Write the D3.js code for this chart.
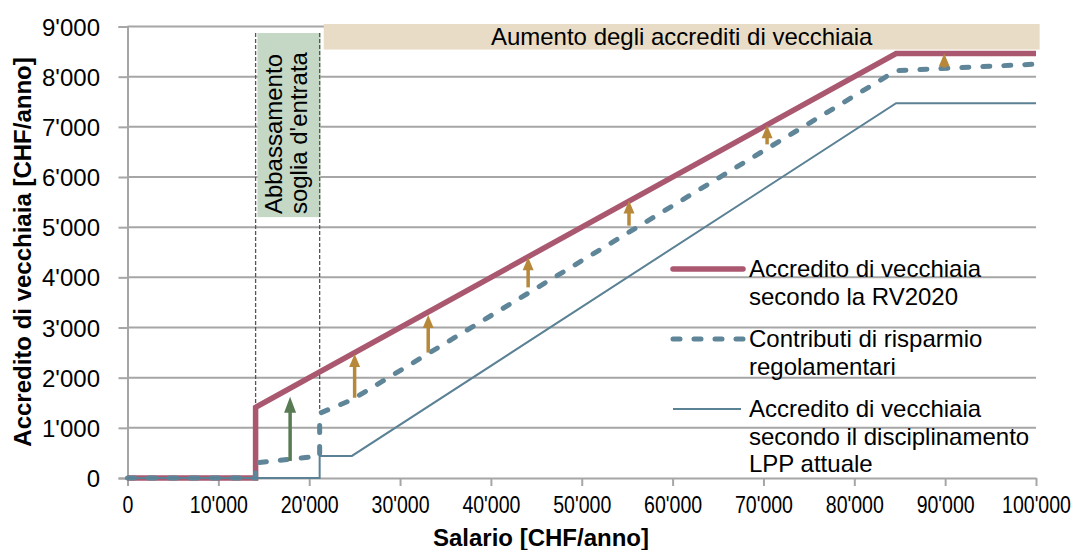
<!DOCTYPE html>
<html>
<head>
<meta charset="utf-8">
<script src="https://cdn.jsdelivr.net/npm/d3@7"></script>
<style>
  body { margin: 0; background: #fff; }
  svg { display: block; font-family: "Liberation Sans", Arial, sans-serif; }
</style>
</head>
<body>
<div id="chart"></div>
<script>
// Salary breakpoints (CHF/anno) and credits (CHF/anno) per series
const redSalary = [0, 14100, 14100, 84600, 100000];
const redCredit = [0, 0, 1410, 8460, 8460];

const dashSalary = [0, 14100, 14100, 21150, 21150, 24700, 84600, 100000];
const dashCredit = [0, 0, 300, 440, 1290, 1560, 8120, 8250];

const thinSalary = [0, 21150, 21150, 24700, 84600, 100000];
const thinCredit = [0, 0, 440, 440, 7470, 7470];

// Arrows: increase of credits
const goldArrowSalary = [25000, 33100, 44100, 55200, 70400, 89900];
const goldArrowFrom = [1600, 2500, 3800, 5030, 6650, 8180];
const goldArrowTo = [2470, 3250, 4400, 5530, 7030, 8460];

const greenArrowSalary = [17900];
const greenArrowFrom = [340];
const greenArrowTo = [1620];

const xTicks = [0, 10000, 20000, 30000, 40000, 50000, 60000, 70000, 80000, 90000, 100000];
const yTicks = [0, 1000, 2000, 3000, 4000, 5000, 6000, 7000, 8000, 9000];

const legendLabels = [
  ['Accredito di vecchiaia', 'secondo la RV2020'],
  ['Contributi di risparmio', 'regolamentari'],
  ['Accredito di vecchiaia', 'secondo il disciplinamento', 'LPP attuale']
];

const width = 1078, height = 550;
const margin = { top: 26.5, right: 42, bottom: 72, left: 127.5 };
const innerW = width - margin.left - margin.right;
const innerH = height - margin.top - margin.bottom;

const fmt = d3.formatLocale({ decimal: '.', thousands: "'", grouping: [3], currency: ['', ''] }).format(',');

const colors = {
  red: '#aa5870',
  dash: '#5f8599',
  thin: '#5b8195',
  grid: '#a6a6a6',
  gold: '#b8883a',
  green: '#587b54',
  tan: '#e8dcc6',
  sage: '#c5d8c6'
};

const svg = d3.select('#chart').append('svg')
  .attr('width', width)
  .attr('height', height);

const g = svg.append('g').attr('transform', `translate(${margin.left},${margin.top})`);

const x = d3.scaleLinear().domain([0, 100000]).range([0, innerW]);
const y = d3.scaleLinear().domain([0, 9000]).range([innerH, 0]);

// gridlines
g.selectAll('line.grid')
  .data(yTicks.filter(d => d > 0))
  .join('line')
  .attr('class', 'grid')
  .attr('x1', 0).attr('x2', innerW)
  .attr('y1', d => y(d)).attr('y2', d => y(d))
  .attr('stroke', colors.grid)
  .attr('stroke-width', 2);

// shaded boxes
g.append('rect')
  .attr('x', x(14300)).attr('width', x(21250) - x(14300))
  .attr('y', y(8870)).attr('height', y(5200) - y(8870))
  .attr('fill', colors.sage);

g.append('rect')
  .attr('x', x(21600)).attr('width', x(100400) - x(21600))
  .attr('y', y(9050)).attr('height', y(8540) - y(9050))
  .attr('fill', colors.tan);

g.append('text')
  .attr('x', (x(21600) + x(100400)) / 2)
  .attr('y', y(8540) - 5)
  .attr('text-anchor', 'middle')
  .attr('font-size', 24)
  .attr('fill', '#000')
  .text('Aumento degli accrediti di vecchiaia');

// rotated label in the green box
[['Abbassamento', 154.5], ['soglia d\'entrata', 179.5]].forEach(([t, cx]) => {
  g.append('text')
    .attr('transform', `translate(${cx},${y(5260)}) rotate(-90)`)
    .attr('font-size', 24)
    .attr('fill', '#000')
    .text(t);
});

// dashed threshold markers
[[14100, 1410], [21150, 1290]].forEach(([s, v]) => {
  g.append('line')
    .attr('x1', x(s)).attr('x2', x(s))
    .attr('y1', y(8870)).attr('y2', y(v))
    .attr('stroke', '#555')
    .attr('stroke-width', 1.3)
    .attr('stroke-dasharray', '4,2');
});

// axes
const yAxis = g.append('g')
  .call(d3.axisLeft(y).tickValues(yTicks).tickFormat(fmt).tickSize(9).tickPadding(0));
yAxis.select('.domain').attr('stroke', colors.grid).attr('stroke-width', 2);
yAxis.selectAll('.tick line').attr('stroke', colors.grid).attr('stroke-width', 2);
yAxis.selectAll('.tick text')
  .attr('x', -27.5)
  .attr('dy', '0.36em')
  .attr('font-size', 24)
  .attr('font-family', '"Liberation Sans", Arial, sans-serif')
  .attr('fill', '#000');

const xAxis = g.append('g')
  .attr('transform', `translate(0,${innerH})`)
  .call(d3.axisBottom(x).tickValues(xTicks).tickFormat(fmt).tickSize(8).tickSizeOuter(0));
xAxis.select('.domain').attr('stroke', colors.grid).attr('stroke-width', 2);
xAxis.selectAll('.tick line').attr('stroke', colors.grid).attr('stroke-width', 2);
xAxis.selectAll('.tick text')
  .attr('y', 35)
  .attr('dy', null)
  .attr('transform', 'scale(0.85,1)')
  .attr('font-size', 23)
  .attr('font-family', '"Liberation Sans", Arial, sans-serif')
  .attr('fill', '#000');

// axis titles
svg.append('text')
  .attr('transform', `translate(31,252) rotate(-90)`)
  .attr('text-anchor', 'middle')
  .attr('font-size', 24)
  .attr('font-weight', 'bold')
  .text('Accredito di vecchiaia [CHF/anno]');

svg.append('text')
  .attr('x', 541).attr('y', 546)
  .attr('text-anchor', 'middle')
  .attr('font-size', 24)
  .attr('font-weight', 'bold')
  .text('Salario [CHF/anno]');

// series
const line = d3.line().x(d => x(d[0])).y(d => y(d[1]));
const series = [
  { pts: d3.zip(redSalary, redCredit), color: colors.red, w: 5.5, dash: null },
  { pts: d3.zip(dashSalary, dashCredit), color: colors.dash, w: 5, dash: '7,14' },
  { pts: d3.zip(thinSalary, thinCredit), color: colors.thin, w: 2, dash: null }
];

g.selectAll('path.series')
  .data(series)
  .join('path')
  .attr('class', 'series')
  .attr('d', d => line(d.pts))
  .attr('fill', 'none')
  .attr('stroke', d => d.color)
  .attr('stroke-width', d => d.w)
  .attr('stroke-dasharray', d => d.dash)
  .attr('stroke-linecap', d => d.dash ? 'round' : 'butt')
  .attr('stroke-linejoin', 'miter');

// arrows
function drawArrows(salaries, from, to, color, headLen, headW) {
  const data = salaries.map((s, i) => ({ s, from: from[i], to: to[i] }));
  const ag = g.append('g');
  ag.selectAll('line')
    .data(data)
    .join('line')
    .attr('x1', d => x(d.s)).attr('x2', d => x(d.s))
    .attr('y1', d => y(d.from)).attr('y2', d => y(d.to) + headLen - 1)
    .attr('stroke', color)
    .attr('stroke-width', 3.5);
  ag.selectAll('path')
    .data(data)
    .join('path')
    .attr('d', d => {
      const px = x(d.s), py = y(d.to);
      return `M${px},${py}L${px - headW / 2},${py + headLen}L${px + headW / 2},${py + headLen}Z`;
    })
    .attr('fill', color);
}
drawArrows(goldArrowSalary, goldArrowFrom, goldArrowTo, colors.gold, 13, 11);
drawArrows(greenArrowSalary, greenArrowFrom, greenArrowTo, colors.green, 16, 12);

// legend
const legend = svg.append('g').attr('transform', 'translate(673,0)');
const legendY = [269, 339, 409];
legend.selectAll('line')
  .data(series)
  .join('line')
  .attr('x1', 0).attr('x2', (d, i) => i === 2 ? 68 : 70)
  .attr('y1', (d, i) => legendY[i]).attr('y2', (d, i) => legendY[i])
  .attr('stroke', d => d.color)
  .attr('stroke-width', d => d.w)
  .attr('stroke-dasharray', d => d.dash)
  .attr('stroke-linecap', (d, i) => i === 2 ? 'butt' : 'round');

legendLabels.forEach((lines, i) => {
  const t = legend.append('text')
    .attr('x', 76)
    .attr('y', legendY[i] + 8)
    .attr('font-size', 24)
    .attr('fill', '#000');
  lines.forEach((l, j) => {
    t.append('tspan').attr('x', 76).attr('dy', j === 0 ? 0 : 27.5).text(l);
  });
});
</script>
</body>
</html>
